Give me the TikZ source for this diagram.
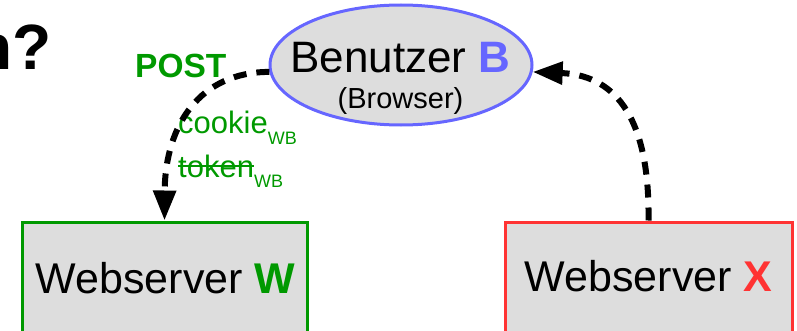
\documentclass[tikz,border=0pt]{standalone}
\usepackage{fontspec}
\setmainfont{Liberation Sans}
\usetikzlibrary{arrows.meta,shapes.geometric}
\definecolor{wgreen}{HTML}{009900}
\definecolor{xred}{HTML}{FF3333}
\definecolor{bblue}{HTML}{6666FF}
\definecolor{boxgray}{HTML}{DDDDDD}
\newcommand{\fsz}[1]{\fontsize{#1}{#1}\selectfont}
% struck-through word
\newcommand{\xstrike}[1]{\setbox0\hbox{#1}\rlap{\rule[10pt]{\wd0}{1.8pt}}\box0}

\begin{document}
\begin{tikzpicture}[x=1pt,y=1pt,
  server/.style={draw, line width=3pt, fill=boxgray, minimum height=120pt, inner sep=0pt},
  flow/.style={line width=6pt, dash pattern=on 13pt off 10pt,
    -{Triangle[length=30pt,width=22pt]}},
  lbl/.style={inner sep=0pt, anchor=base}]
\useasboundingbox (0,0) rectangle (797,330);

% user / browser
\node[ellipse, draw=bblue, line width=3pt, fill=boxgray, minimum width=262pt,
      minimum height=120pt, inner sep=0pt] (B) at (401,265) {};
\node[lbl] (btxt) at (400.5,258) {\fsz{44}Benutzer \textcolor{bblue}{\bfseries B}};
\node[lbl] (brow) at (400.5,222) {\fsz{29}(Browser)};

% web servers (boxes run off the bottom edge)
\node[server, draw=wgreen, minimum width=285pt] (W) at (164.5,48) {};
\node[server, draw=xred, minimum width=287pt] (X) at (648.5,48) {};
\node[lbl] (wtxt) at (165.5,37) {\fsz{43}Webserver \textcolor{wgreen}{\bfseries W}};
\node[lbl] (xtxt) at (648.5,39) {\fsz{43}Webserver \textcolor{xred}{\bfseries X}};

% heading fragment
\node[lbl, anchor=base east] (title) at (52,260) {\fsz{64}\bfseries n?};

% request labels
\node[lbl, anchor=base west, text=wgreen] (post) at (135,252) {\fsz{33.5}\bfseries POST};
\node[lbl, anchor=base west, text=wgreen] (cookie) at (178,197)
  {\fsz{31}cookie\raisebox{-11pt}{\fsz{18}WB}};
\node[lbl, anchor=base west, text=wgreen] (token) at (178,153)
  {\fsz{31}\xstrike{token}\raisebox{-10pt}{\fsz{18}WB}};

% connectors
\draw[flow] (B.183) .. controls (200,258) and (165,205) .. (W.north);
\draw[flow] (X.north) .. controls (650,220) and (610,255) .. (B.-3);
\end{tikzpicture}
\end{document}
